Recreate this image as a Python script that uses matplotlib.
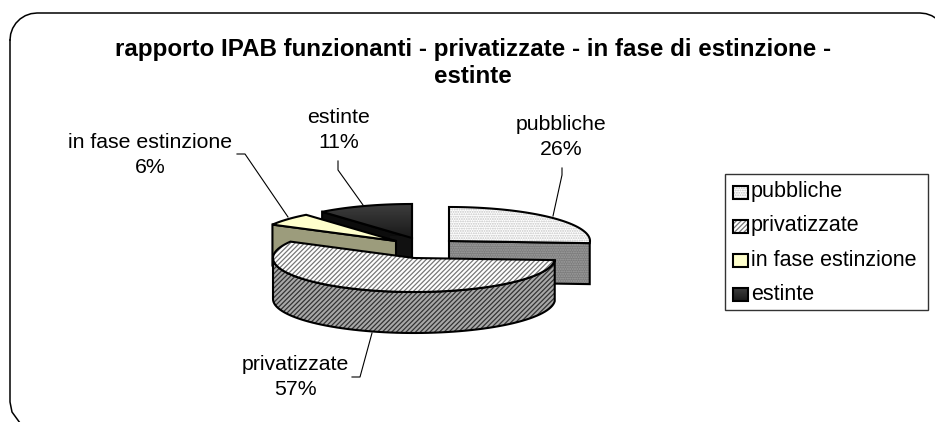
import numpy as np
import matplotlib
matplotlib.use('Agg')
import matplotlib.pyplot as plt
from matplotlib.patches import Polygon, Rectangle

plt.rcParams['font.family'] = ['Liberation Sans', 'DejaVu Sans']
plt.rcParams['hatch.linewidth'] = 0.9

# Data
labels = ['pubbliche', 'privatizzate', 'in fase estinzione', 'estinte']
values = [26, 57, 6, 11]
title = 'rapporto IPAB funzionanti - privatizzate - in fase di estinzione -\nestinte'

W, H = 935, 422
RX, RY, DEPTH = 141, 34, 41
lw = 1.5

# pixel layout of each exploded slice: apex position
apex = {'pubbliche': (449, 241), 'privatizzate': (414, 258),
        'in fase estinzione': (396, 241), 'estinte': (412, 238)}

fig = plt.figure(figsize=(W / 100, H / 100), dpi=100)
ax = fig.add_axes([0, 0, 1, 1])
ax.set_xlim(0, W)
ax.set_ylim(H, 0)
ax.axis('off')

# Rounded frame, cut by the image edge
t = np.linspace(0, np.pi / 2, 8)
r = 27
xs = list(10 + r - r * np.cos(t)) + list(920 + r * np.sin(t))
ys = list(13 + r - r * np.sin(t)) + list(13 + r - r * np.cos(t))
ax.plot(xs, ys, color='black', lw=1.1)
ax.plot([10, 10, 12, 20], [40, 402, 412, 423], color='black', lw=1.1)

# Slice angles from the values
edges = np.concatenate([[0], np.cumsum(values)]) * 360 / sum(values)
angles = {n: (edges[i], edges[i + 1]) for i, n in enumerate(labels)}


def rim(name, a0, a1):
    # points on the top rim, angles clockwise from 12 o'clock
    cx, cy = apex[name]
    a = np.radians(np.linspace(a0, a1, 80))
    return np.column_stack([cx + RX * np.sin(a), cy - RY * np.cos(a)])


def shape(pts, fc, z, hatch=None, hatch_color='black'):
    # fill, hatch layer and black outline are separate so the hatch can have its own colour
    ax.add_patch(Polygon(pts, closed=True, fc=fc, ec='none', zorder=z))
    if hatch:
        ax.add_patch(Polygon(pts, closed=True, fc='none', ec=hatch_color, lw=0, hatch=hatch, zorder=z))
    return ax.add_patch(Polygon(pts, closed=True, fc='none', ec='black', lw=lw, zorder=z))


def cut_face(name, ang):
    cx, cy = apex[name]
    p = rim(name, ang, ang)[0]
    return [(cx, cy), p, (p[0], p[1] + DEPTH), (cx, cy + DEPTH)]


def top_face(name):
    a0, a1 = angles[name]
    return np.vstack([[apex[name]], rim(name, a0, a1)])


def gradient(pts, z, dark=0.10, light=0.24):
    xy = np.array(pts)
    clip = ax.add_patch(Polygon(xy, closed=True, fc='none', ec='none', zorder=z))
    im = ax.imshow(np.linspace(light, dark, 64).reshape(-1, 1), cmap='gray', vmin=0, vmax=1,
                   extent=[xy[:, 0].min(), xy[:, 0].max(), xy[:, 1].max(), xy[:, 1].min()],
                   aspect='auto', zorder=z)
    im.set_clip_path(clip)
    ax.set_xlim(0, W)
    ax.set_ylim(H, 0)
    ax.add_patch(Polygon(xy, closed=True, fc='none', ec='black', lw=lw, zorder=z))


# estinte
shape(cut_face('estinte', angles['estinte'][0]), '#0c0c0c', 1)
ax.add_patch(Rectangle((390, 236), 22, 30, fc='#111111', ec='none', zorder=1))
ax.plot([412, 412], [204, 262], color='black', lw=lw, zorder=1.2)
gradient(top_face('estinte'), 1.1)

# in fase estinzione
shape(cut_face('in fase estinzione', angles['in fase estinzione'][0]), '#9c9c7c', 2)
shape(top_face('in fase estinzione'), '#ffffcc', 2.1)

# pubbliche
shape(cut_face('pubbliche', angles['pubbliche'][1]), '#7c7c7c', 2, '.......', '#a0a0a0')
shape(top_face('pubbliche'), 'white', 2.1, '.......', '#c4c4c4')

# privatizzate: outer wall then top
a0, a1 = angles['privatizzate']
pts = rim('privatizzate', a0, a1)
front = pts[: pts[:, 0].argmin() + 1]
wall = np.vstack([front, (front + [0, DEPTH])[::-1]])
shape(wall, '#a8a8a8', 3, '///////', '#333333')
shape(top_face('privatizzate'), 'white', 3.1, '///////', '#777777')

# Title
ax.text(473, 63, title, ha='center', va='center', fontsize=17.4, fontweight='bold',
        linespacing=1.22, color='black')

# Slice labels
pct = {n: '%d%%' % v for n, v in zip(labels, values)}
label_pos = {'pubbliche': (561, 137), 'privatizzate': (295, 377),
             'in fase estinzione': (150, 155), 'estinte': (339, 130)}
leaders = {'pubbliche': [(562, 168), (562, 175), (553, 216)],
           'privatizzate': [(352, 377), (360, 377), (372, 333)],
           'in fase estinzione': [(237, 154), (245, 154), (288, 217)],
           'estinte': [(338, 161), (338, 170), (363, 205)]}
for n in labels:
    x, y = label_pos[n]
    ax.text(x, y, n + '\n' + pct[n], ha='center', va='center', fontsize=15.3, linespacing=1.36, zorder=5)
    lp = np.array(leaders[n])
    ax.plot(lp[:, 0], lp[:, 1], color='black', lw=0.8, zorder=5)

# Legend
ax.add_patch(Rectangle((725, 174), 203, 136, fc='white', ec='#333333', lw=1, zorder=4))
swatches = {'pubbliche': ('white', '.......', '#c4c4c4'),
            'privatizzate': ('white', '///////', '#777777'),
            'in fase estinzione': ('#ffffcc', None, 'black'),
            'estinte': (None, None, 'black')}
for i, n in enumerate(labels):
    y = 192 + i * 34
    box = [(733, y - 6), (748, y - 6), (748, y + 7), (733, y + 7)]
    fc, hatch, hc = swatches[n]
    if fc is None:
        gradient(box, 5)
    else:
        shape(box, fc, 5, hatch, hc)
    ax.text(751, y, n, ha='left', va='center', fontsize=15.5, zorder=5)

fig.savefig('out.png', dpi=100)
